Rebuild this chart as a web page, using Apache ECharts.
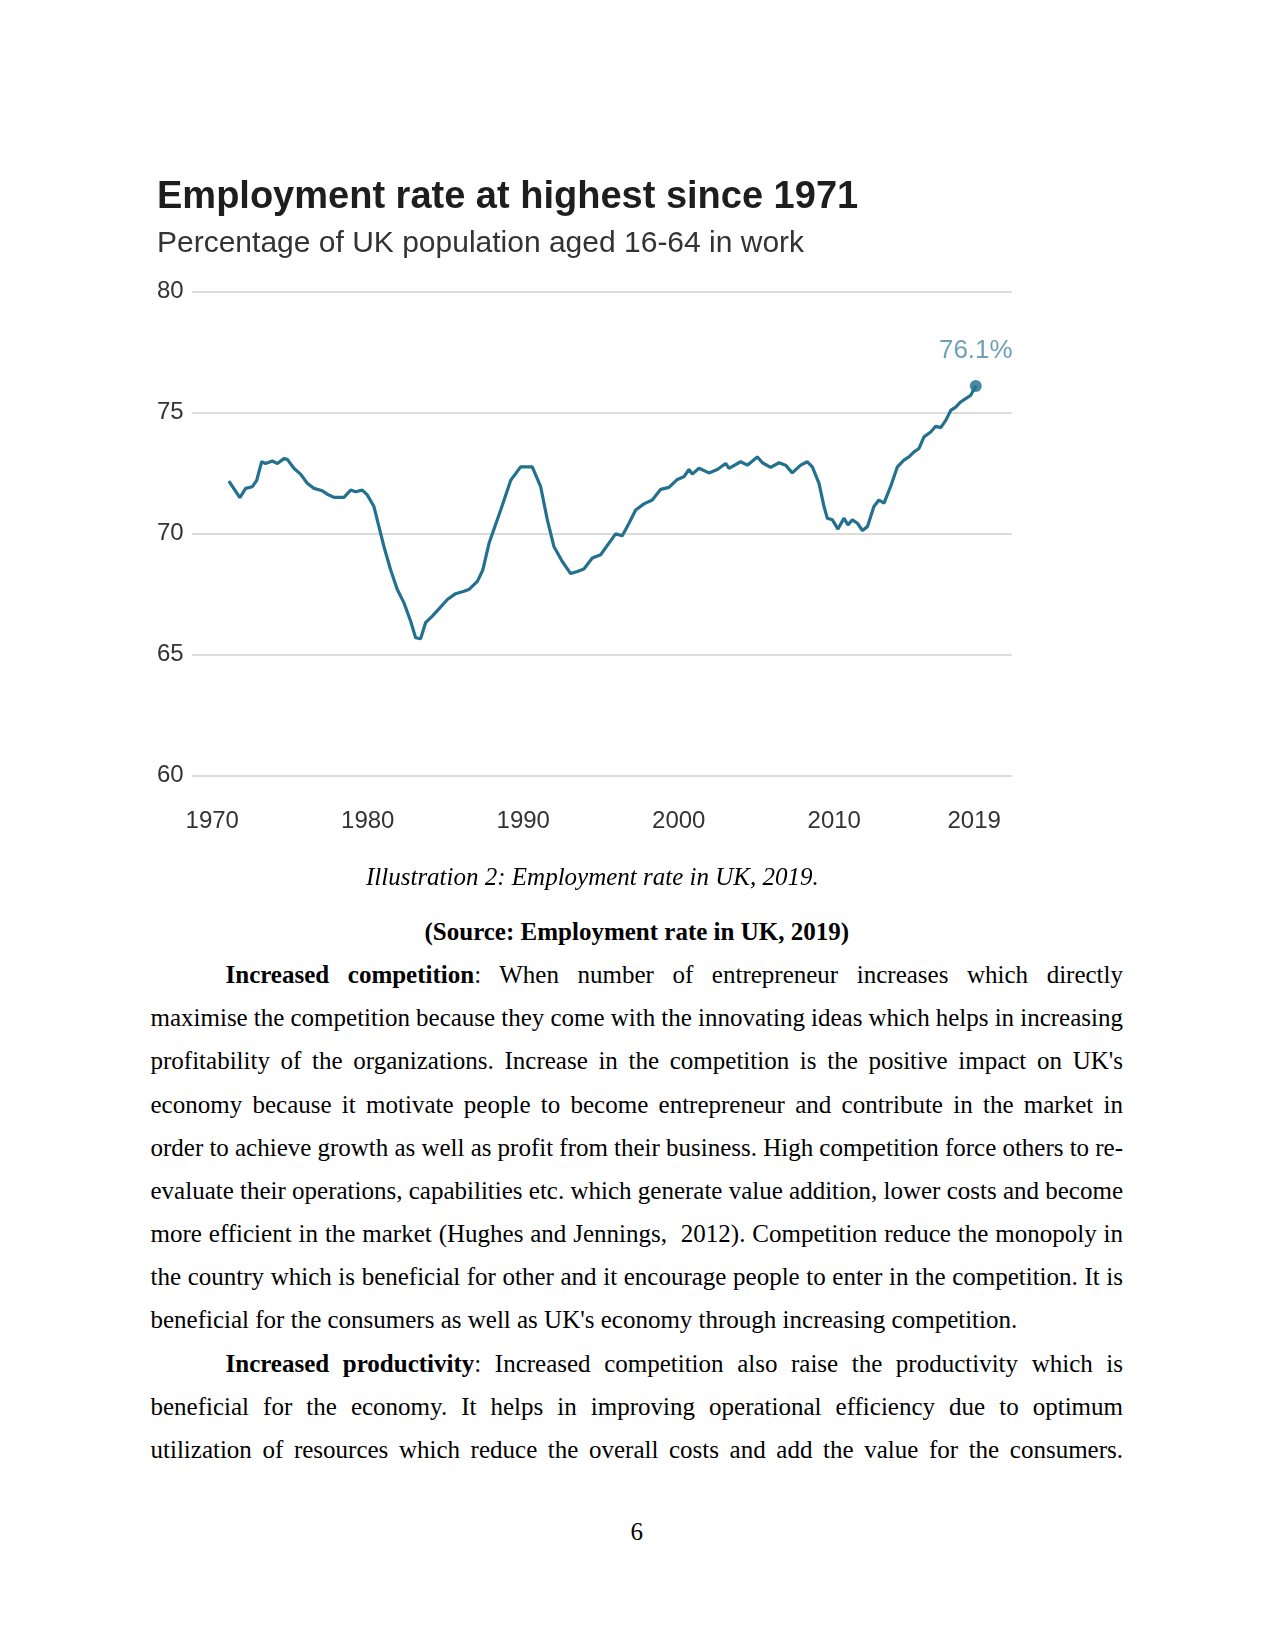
<!DOCTYPE html>
<html>
<head>
<meta charset="utf-8">
<script src="https://cdn.jsdelivr.net/npm/echarts@6/dist/echarts.min.js"></script>
<style>
  html, body { margin: 0; padding: 0; background: #ffffff; }
  body { width: 1275px; height: 1651px; position: relative; overflow: hidden; }
  #chart { position: absolute; left: 0; top: 0; width: 1275px; height: 860px; }
  .t { position: absolute; font-family: "Liberation Serif", "Times New Roman", serif; font-size: 25px; line-height: 43.16px; color: #000; white-space: nowrap; }
</style>
</head>
<body>
<div id="chart"></div>
<div class="t" style="left:366px; top:855px; font-style:italic;">Illustration 2: Employment rate in UK, 2019.</div>
<div class="t" style="left:150.5px; width:972.5px; text-align:center; top:909.5px; font-weight:bold;">(Source: Employment rate in UK, 2019)</div>
<div id="body"></div>
<div class="t" style="left:150.5px; width:972.5px; text-align:center; top:1510px;">6</div>
<script>
// ---- Data ----
var years = [
  1971.07, 1971.78, 1972.15, 1972.58, 1972.86, 1973.18, 1973.43, 1973.86, 1974.19, 1974.61,
  1974.83, 1975.25, 1975.68, 1976.11, 1976.54, 1977.08, 1977.40, 1977.83, 1978.47, 1978.90,
  1979.22, 1979.65, 1979.97, 1980.40, 1980.72, 1981.04, 1981.47, 1981.90, 1982.33, 1982.76,
  1983.08, 1983.40, 1983.72, 1984.15, 1984.58, 1985.12, 1985.65, 1986.19, 1986.50, 1987.05,
  1987.40, 1987.80, 1988.55, 1989.19, 1989.83, 1990.58, 1991.12, 1991.55, 1991.97, 1992.51,
  1993.05, 1993.48, 1993.90, 1994.44, 1994.98, 1995.51, 1995.94, 1996.37, 1996.80, 1997.23,
  1997.76, 1998.30, 1998.84, 1999.37, 1999.91, 2000.33, 2000.66, 2000.87, 2001.30, 2001.94,
  2002.48, 2003.02, 2003.23, 2003.98, 2004.41, 2005.05, 2005.38, 2005.91, 2006.45, 2006.87,
  2007.30, 2007.84, 2008.27, 2008.59, 2009.02, 2009.34, 2009.55, 2009.88, 2010.24, 2010.62,
  2010.88, 2011.16, 2011.49, 2011.81, 2012.13, 2012.55, 2012.87, 2013.20, 2013.62, 2014.06,
  2014.48, 2014.80, 2015.13, 2015.45, 2015.77, 2016.20, 2016.52, 2016.85, 2017.17, 2017.49,
  2017.81, 2018.13, 2018.45, 2018.77, 2019.10
];
var rates = [
  72.17, 71.49, 71.87, 71.94, 72.20, 72.97, 72.90, 73.00, 72.90, 73.10,
  73.07, 72.70, 72.46, 72.08, 71.87, 71.77, 71.63, 71.50, 71.50, 71.80,
  71.73, 71.80, 71.60, 71.12, 70.29, 69.47, 68.51, 67.69, 67.14, 66.38,
  65.70, 65.66, 66.32, 66.59, 66.89, 67.28, 67.52, 67.62, 67.69, 68.03,
  68.50, 69.60, 70.98, 72.20, 72.76, 72.76, 71.94, 70.57, 69.47, 68.85,
  68.35, 68.44, 68.54, 68.99, 69.13, 69.61, 69.99, 69.91, 70.43, 70.98,
  71.23, 71.39, 71.83, 71.91, 72.24, 72.35, 72.65, 72.46, 72.70, 72.51,
  72.65, 72.90, 72.70, 72.97, 72.83, 73.17, 72.93, 72.74, 72.93, 72.83,
  72.51, 72.83, 72.97, 72.76, 72.08, 71.12, 70.64, 70.57, 70.19, 70.64,
  70.36, 70.57, 70.43, 70.13, 70.29, 71.12, 71.39, 71.26, 71.94, 72.76,
  73.04, 73.17, 73.38, 73.52, 74.00, 74.20, 74.44, 74.38, 74.68, 75.09,
  75.23, 75.44, 75.58, 75.71, 76.10
];
var xTickLabels = [1970, 1980, 1990, 2000, 2010, 2019];
var yTicks = [60, 65, 70, 75, 80];
var latestLabel = '76.1%';
var chartTitle = 'Employment rate at highest since 1971';
var chartSubtitle = 'Percentage of UK population aged 16-64 in work';

var bodyLines = [
  {html: '<b>Increased competition</b>: When number of entrepreneur increases which directly', indent: true, justify: true},
  {html: 'maximise the competition because they come with the innovating ideas which helps in increasing', justify: true},
  {html: 'profitability of the organizations. Increase in the competition is the positive impact on UK\'s', justify: true},
  {html: 'economy because it motivate people to become entrepreneur and contribute in the market in', justify: true},
  {html: 'order to achieve growth as well as profit from their business. High competition force others to re-', justify: true},
  {html: 'evaluate their operations, capabilities etc. which generate value addition, lower costs and become', justify: true},
  {html: 'more efficient in the market (Hughes and Jennings,\u00a0 2012). Competition reduce the monopoly in', justify: true},
  {html: 'the country which is beneficial for other and it encourage people to enter in the competition. It is', justify: true},
  {html: 'beneficial for the consumers as well as UK\'s economy through increasing competition.', justify: false},
  {html: '<b>Increased productivity</b>: Increased competition also raise the productivity which is', indent: true, justify: true},
  {html: 'beneficial for the economy. It helps in improving operational efficiency due to optimum', justify: true},
  {html: 'utilization of resources which reduce the overall costs and add the value for the consumers.', justify: true}
];

// ---- Body text (each line justified to the text block width) ----
(function () {
  var host = document.getElementById('body');
  var firstTop = 953.1;
  var step = 43.16;
  var leftEdge = 150.5, rightEdge = 1123, indent = 75;
  bodyLines.forEach(function (ln, i) {
    var d = document.createElement('div');
    d.className = 't';
    var left = leftEdge + (ln.indent ? indent : 0);
    d.style.left = left + 'px';
    d.style.top = (firstTop + i * step) + 'px';
    d.innerHTML = ln.html;
    host.appendChild(d);
    if (ln.justify) {
      var w = d.getBoundingClientRect().width;
      var n = (d.textContent.match(/[ \u00a0]/g) || []).length;
      if (n > 0) { d.style.wordSpacing = ((rightEdge - left - w) / n) + 'px'; }
    }
  });
})();

// ---- Chart ----
var lineData = years.map(function (y, i) { return [y, rates[i]]; });
var last = lineData[lineData.length - 1];

var chart = echarts.init(document.getElementById('chart'), null, {renderer: 'canvas'});
chart.setOption({
  animation: false,
  backgroundColor: 'transparent',
  title: [
    {
      text: chartTitle, left: 157, top: 178.5, padding: 0,
      textStyle: {fontFamily: 'Liberation Sans, Arial, sans-serif', fontSize: 38, fontWeight: 'bold', color: '#1e1e1e'}
    },
    {
      text: chartSubtitle, left: 157, top: 229, padding: 0,
      textStyle: {fontFamily: 'Liberation Sans, Arial, sans-serif', fontSize: 30, fontWeight: 'normal', color: '#333333'}
    }
  ],
  grid: {left: 191.7, right: 263.3, top: 291.6, bottom: 84.3, containLabel: false},
  xAxis: {
    type: 'value', min: 1968.68, max: 2021.41,
    axisLine: {show: false}, axisTick: {show: false}, splitLine: {show: false},
    axisLabel: {
      customValues: xTickLabels, margin: 34,
      fontFamily: 'Liberation Sans, Arial, sans-serif', fontSize: 24, color: '#333333',
      formatter: function (v) { return String(Math.round(v)); }
    }
  },
  yAxis: {
    type: 'value', min: yTicks[0], max: yTicks[yTicks.length - 1], interval: 5,
    axisLine: {show: false}, axisTick: {show: false},
    splitLine: {show: true, lineStyle: {color: '#dcdcdc', width: 2}},
    axisLabel: {margin: 8, padding: [7, 0, 0, 0], fontFamily: 'Liberation Sans, Arial, sans-serif', fontSize: 24, color: '#333333'}
  },
  series: [
    {
      type: 'line', data: lineData, showSymbol: false, smooth: false,
      lineStyle: {color: '#23708f', width: 3.2}, itemStyle: {color: '#23708f'}
    },
    {
      type: 'scatter', data: [last], symbol: 'circle', symbolSize: 12,
      itemStyle: {color: '#1b6a8e'},
      label: {
        show: true, position: 'top', distance: 16, formatter: latestLabel,
        fontFamily: 'Liberation Sans, Arial, sans-serif', fontSize: 26, color: '#4a86a8'
      }
    }
  ]
});
</script>
</body>
</html>
